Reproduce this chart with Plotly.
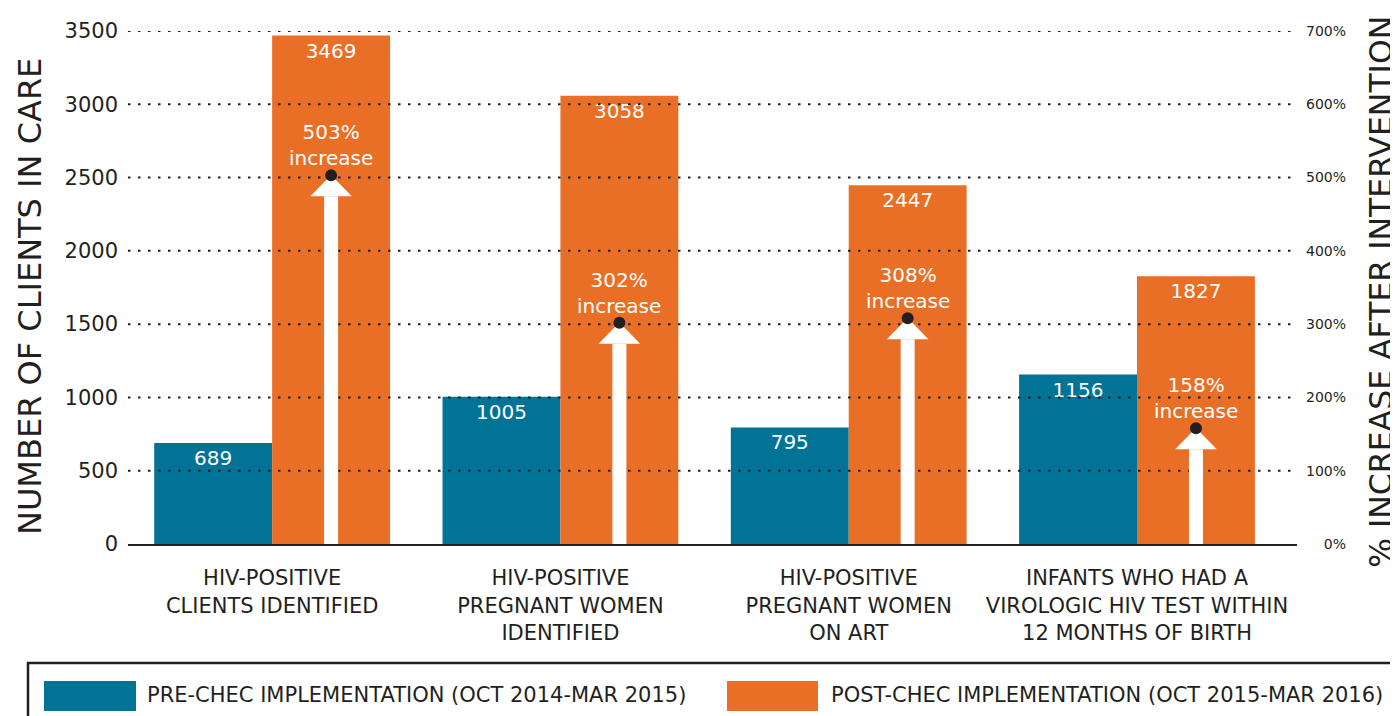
import plotly.graph_objects as go

# ---------------- data ----------------
categories = [
    "HIV-POSITIVE<br>CLIENTS IDENTIFIED",
    "HIV-POSITIVE<br>PREGNANT WOMEN<br>IDENTIFIED",
    "HIV-POSITIVE<br>PREGNANT WOMEN<br>ON ART",
    "INFANTS WHO HAD A<br>VIROLOGIC HIV TEST WITHIN<br>12 MONTHS OF BIRTH",
]
pre_values = [689, 1005, 795, 1156]
post_values = [3469, 3058, 2447, 1827]
pct_increase = [503, 302, 308, 158]
left_ticks = [0, 500, 1000, 1500, 2000, 2500, 3000, 3500]
right_ticks = [0, 100, 200, 300, 400, 500, 600, 700]
series_names = [
    "PRE-CHEC IMPLEMENTATION (OCT 2014-MAR 2015)",
    "POST-CHEC IMPLEMENTATION (OCT 2015-MAR 2016)",
]
left_title = "NUMBER OF CLIENTS IN CARE"
right_title = "% INCREASE AFTER INTERVENTION"

# ---------------- style ----------------
TEAL = "#007397"
ORANGE = "#E96F26"
DARK = "#231F20"
FONT = "DejaVu Sans"

# the page body adds an 8px margin; positions below are in window pixels
PAGE = 8
WIN_W, WIN_H = 1398, 716
W_FIG, H_FIG = WIN_W - PAGE, WIN_H - PAGE
PLOT_L, PLOT_R, PLOT_T, PLOT_B = 128, 1297, 31, 544  # window px
M_L = PLOT_L - PAGE
M_T = PLOT_T - PAGE
M_R = W_FIG - (PLOT_R - PAGE)
M_B = H_FIG - (PLOT_B - PAGE)
PW = PLOT_R - PLOT_L
PH = PLOT_B - PLOT_T

X_RANGE = [-0.5, 3.555]
Y_RANGE = [0, 3500]
Y2_RANGE = [0, 700]
BARGAP = 0.182

px_x = (X_RANGE[1] - X_RANGE[0]) / PW
px_y2 = (Y2_RANGE[1] - Y2_RANGE[0]) / PH
post_offset = (1 - BARGAP) / 4


def px2paper_x(px):
    return (px - PLOT_L) / PW


def px2paper_y(py):
    return (PLOT_B - py) / PH


x_idx = list(range(len(categories)))

fig = go.Figure()

for vals, col, name in [(pre_values, TEAL, series_names[0]), (post_values, ORANGE, series_names[1])]:
    fig.add_trace(go.Bar(
        x=x_idx, y=vals, name=name, marker=dict(color=col, line=dict(width=0)),
        text=[str(v) for v in vals], textposition="inside", insidetextanchor="end",
        textangle=0, textfont=dict(color="white", size=20, family=FONT), hoverinfo="skip",
        showlegend=False,
    ))

# dotted gridlines drawn above the bars
gx, gy = [], []
for t in left_ticks[1:]:
    gx += [X_RANGE[0], X_RANGE[1], None]
    gy += [t, t, None]
fig.add_trace(go.Scatter(
    x=gx, y=gy, mode="lines", line=dict(color=DARK, width=2, dash="2.5px,7.5px"),
    hoverinfo="skip", showlegend=False,
))

# arrows on the percentage axis
head_h = 21 * px_y2
head_hw = 20.5 * px_x
sx, sy, hx, hy = [], [], [], []
dot_x = []
for i, p in zip(x_idx, pct_increase):
    xc = i + post_offset
    dot_x.append(xc)
    sx += [xc, xc, None]
    sy += [Y2_RANGE[0], p - head_h, None]
    hx += [xc - head_hw, xc, xc + head_hw, None]
    hy += [p - head_h, p, p - head_h, None]

fig.add_trace(go.Scatter(
    x=sx, y=sy, yaxis="y2", mode="lines", line=dict(color="white", width=14),
    hoverinfo="skip", showlegend=False,
))
fig.add_trace(go.Scatter(
    x=hx, y=hy, yaxis="y2", mode="lines", fill="toself", fillcolor="white",
    line=dict(color="white", width=0.5), hoverinfo="skip", showlegend=False,
))
fig.add_trace(go.Scatter(
    x=dot_x, y=pct_increase, yaxis="y2", mode="markers",
    marker=dict(color=DARK, size=12, line=dict(width=0)), hoverinfo="skip", showlegend=False,
))

annotations = []
for xc, p in zip(dot_x, pct_increase):
    annotations.append(dict(
        x=xc, y=p, xref="x", yref="y2", text=f"{p}%<br>increase", showarrow=False,
        yanchor="bottom", yshift=3, font=dict(color="white", size=20, family=FONT),
    ))

# axis titles
annotations.append(dict(
    x=px2paper_x(30), y=px2paper_y(297), xref="paper", yref="paper", text=left_title,
    textangle=-90, showarrow=False, xanchor="center", yanchor="middle",
    font=dict(color=DARK, size=32, family=FONT),
))
annotations.append(dict(
    x=px2paper_x(1381), y=px2paper_y(292), xref="paper", yref="paper", text=right_title,
    textangle=-90, showarrow=False, xanchor="center", yanchor="middle",
    font=dict(color=DARK, size=31.5, family=FONT),
))

# legend box (drawn with shapes for the large swatches)
shapes = [
    dict(type="rect", xref="paper", yref="paper",
         x0=px2paper_x(28), x1=px2paper_x(1395), y0=px2paper_y(663), y1=px2paper_y(740),
         line=dict(color=DARK, width=2.5), fillcolor="rgba(0,0,0,0)", layer="above"),
]
legend_items = [
    (series_names[0], TEAL, 44, 136, 145),
    (series_names[1], ORANGE, 727, 818, 829),
]
for name, col, sx0, sx1, tx in legend_items:
    shapes.append(dict(
        type="rect", xref="paper", yref="paper",
        x0=px2paper_x(sx0), x1=px2paper_x(sx1), y0=px2paper_y(681), y1=px2paper_y(711),
        line=dict(width=0), fillcolor=col, layer="above",
    ))
    annotations.append(dict(
        x=px2paper_x(tx), y=px2paper_y(695), xref="paper", yref="paper", text=name,
        showarrow=False, xanchor="left", yanchor="middle",
        font=dict(color=DARK, size=21, family=FONT),
    ))

# right labels padded with figure spaces so they line up on the right
right_text = [f"{t}%" for t in right_ticks]
maxlen = max(len(s) for s in right_text)
right_text = ["\u2007" * (maxlen - len(s)) + s for s in right_text]

fig.update_layout(
    width=W_FIG, height=H_FIG,
    margin=dict(l=M_L, r=M_R, t=M_T, b=M_B, pad=0),
    paper_bgcolor="white", plot_bgcolor="white",
    barmode="group", bargap=BARGAP, bargroupgap=0,
    showlegend=False,
    font=dict(family=FONT, color=DARK),
    xaxis=dict(
        range=X_RANGE, tickmode="array", tickvals=x_idx, ticktext=categories,
        showgrid=False, zeroline=False, showline=True, linecolor=DARK, linewidth=2,
        ticks="", ticklabelstandoff=14, tickfont=dict(size=21, color=DARK, family=FONT),
        fixedrange=True,
    ),
    yaxis=dict(
        range=Y_RANGE, tickmode="array", tickvals=left_ticks,
        showgrid=False, zeroline=False, showline=False, ticks="",
        ticklabelstandoff=9, tickfont=dict(size=21, color=DARK, family=FONT),
        fixedrange=True,
    ),
    yaxis2=dict(
        range=Y2_RANGE, overlaying="y", side="right", tickmode="array",
        tickvals=right_ticks, ticktext=right_text,
        showgrid=False, zeroline=False, showline=False, ticks="",
        ticklabelstandoff=8, tickfont=dict(size=14, color=DARK, family=FONT),
        fixedrange=True,
    ),
    annotations=annotations,
    shapes=shapes,
)

fig.write_html("out.html")
